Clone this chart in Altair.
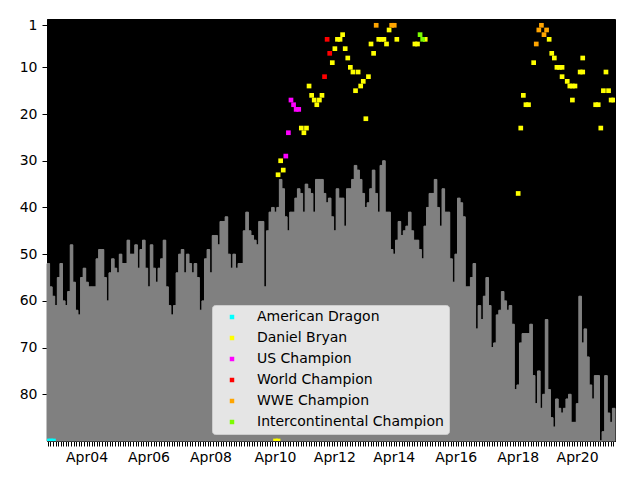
import altair as alt
import pandas as pd

# Rank per month (bar tops), left to right
ranks = [
    52, 57, 59, 61, 55, 52, 60, 61, 58, 48,
    56, 62, 63, 55, 53, 56, 57, 57, 57, 51,
    49, 49, 55, 60, 54, 51, 53, 54, 50, 52,
    52, 47, 50, 50, 48, 53, 49, 47, 53, 57,
    48, 53, 56, 53, 51, 47, 57, 61, 63, 61,
    54, 50, 49, 54, 50, 52, 54, 52, 55, 62,
    60, 51, 49, 54, 46, 46, 48, 43, 43, 42,
    50, 53, 50, 53, 52, 52, 45, 41, 45, 46,
    47, 48, 43, 43, 57, 45, 41, 40, 41, 40,
    34, 36, 42, 45, 41, 41, 38, 36, 37, 41,
    35, 36, 37, 41, 34, 34, 34, 37, 39, 38,
    42, 45, 36, 38, 38, 44, 36, 36, 34, 31,
    32, 34, 37, 40, 39, 36, 32, 37, 41, 31,
    30, 41, 41, 49, 50, 47, 43, 46, 45, 44,
    41, 45, 47, 47, 49, 51, 44, 40, 37, 37,
    34, 40, 44, 36, 41, 41, 51, 56, 50, 38,
    39, 42, 57, 57, 55, 52, 66, 61, 64, 59,
    55, 61, 70, 69, 63, 62, 58, 60, 62, 61,
    65, 79, 78, 69, 67, 67, 67, 65, 76, 82,
    75, 83, 80, 64, 79, 85, 87, 81, 83, 84,
    83, 81, 80, 86, 86, 82, 59, 69, 66, 72,
    78, 81, 76, 76, 90, 88, 76, 84, 86, 83,
]
base_rank = 90

tick_idx = [15, 39, 63, 88, 111, 134, 158, 182, 205]
tick_labels = ["Apr04", "Apr06", "Apr08", "Apr10", "Apr12", "Apr14", "Apr16", "Apr18", "Apr20"]

categories = ["American Dragon", "Daniel Bryan", "US Champion",
              "World Champion", "WWE Champion", "Intercontinental Champion"]
colors = ["#00ffff", "#ffff00", "#ff00ff", "#ff0000", "#ffa500", "#7cfc00"]

american_dragon_idx = [0, 1, 2]
american_dragon_rank = [90, 90, 90]

daniel_bryan_idx = [88, 89, 89, 90, 91, 98, 99, 100, 101, 102, 103, 104, 105, 106,
                    110, 111, 112, 113, 114, 115, 116, 117, 118, 119, 120, 121, 122,
                    123, 124, 125, 126, 128, 129, 130, 131, 132, 135, 142, 143, 146,
                    182, 183, 184, 185, 186, 188, 194, 195, 196, 197, 198, 199, 199,
                    201, 202, 203, 204, 203, 206, 207, 207, 212, 213, 214, 215, 216,
                    217, 218, 219]
daniel_bryan_rank = [90, 90, 33, 30, 32, 23, 24, 23, 14, 16, 17, 18, 17, 16,
                     9, 6, 4, 4, 3, 6, 8, 10, 11, 15, 11, 14, 13,
                     21, 12, 5, 7, 4, 4, 4, 5, 2, 4, 5, 5, 4,
                     37, 23, 16, 18, 18, 9, 4, 7, 8, 10, 10, 10, 12,
                     13, 14, 14, 14, 17, 11, 11, 8, 18, 18, 23, 15, 11,
                     15, 17, 17]

us_champion_idx = [92, 93, 94, 95, 96, 97]
us_champion_rank = [29, 24, 17, 18, 19, 19]

world_champion_idx = [107, 108, 109]
world_champion_rank = [12, 4, 7]

wwe_champion_idx = [127, 133, 134, 189, 190, 191, 192, 193]
wwe_champion_rank = [1, 1, 1, 5, 2, 1, 3, 2]

ic_champion_idx = [144, 145]
ic_champion_rank = [3, 4]

n_bars = len(ranks)
bars = pd.DataFrame({"idx": list(range(n_bars)), "rank": ranks, "base": base_rank})

rows = []
for cat, ix, rk in [
    (categories[0], american_dragon_idx, american_dragon_rank),
    (categories[1], daniel_bryan_idx, daniel_bryan_rank),
    (categories[2], us_champion_idx, us_champion_rank),
    (categories[3], world_champion_idx, world_champion_rank),
    (categories[4], wwe_champion_idx, wwe_champion_rank),
    (categories[5], ic_champion_idx, ic_champion_rank),
]:
    for i, r in zip(ix, rk):
        rows.append({"idx": i, "rank": r, "cat": cat})
points = pd.DataFrame(rows)

label_expr = ""
for i, l in zip(tick_idx, tick_labels):
    label_expr += f"datum.value == {i} ? '{l}' : "
label_expr += "''"

x_scale = alt.Scale(domain=list(range(n_bars)), paddingInner=0, paddingOuter=0)
y_scale = alt.Scale(domain=[-0.35, 90], reverse=True, nice=False, zero=False)

x_enc = alt.X("idx:O", scale=x_scale,
              axis=alt.Axis(title=None, labelExpr=label_expr, labelAngle=0,
                            values=list(range(n_bars)),
                            labelOverlap=False, tickSize=5, tickWidth=1,
                            labelPadding=4))
y_axis = alt.Axis(title=None, values=[1, 10, 20, 30, 40, 50, 60, 70, 80],
                  tickSize=5, labelPadding=5)

bar_layer = alt.Chart(bars).mark_bar(color="#808080", stroke="#808080", strokeWidth=1).encode(
    x=x_enc,
    y=alt.Y("rank:Q", scale=y_scale, axis=y_axis),
    y2="base:Q",
)

# step area on top of the bars to hide anti-aliasing seams between adjacent bars
fill_layer = alt.Chart(bars).mark_area(color="#808080", interpolate="step").encode(
    x=x_enc,
    y=alt.Y("rank:Q", scale=y_scale, axis=y_axis),
    y2="base:Q",
)

point_layer = alt.Chart(points).mark_square(size=22, opacity=1, clip=True).encode(
    x=x_enc,
    y=alt.Y("rank:Q", scale=y_scale, axis=y_axis),
    color=alt.Color("cat:N", scale=alt.Scale(domain=categories, range=colors),
                    legend=alt.Legend(title=None, orient="none", legendX=165, legendY=286,
                                      fillColor="#e5e5e5", strokeColor="#cccccc",
                                      cornerRadius=3, padding=5, symbolType="square",
                                      symbolSize=20, symbolOffset=8, labelOffset=18,
                                      labelFontSize=14, labelFont="DejaVu Sans",
                                      labelColor="black", labelLimit=300, rowPadding=7,
                                      symbolStrokeWidth=0)),
)

chart = alt.layer(bar_layer, fill_layer, point_layer).properties(
    width=568, height=422,
    autosize=alt.AutoSizeParams(type="none"),
    padding={"left": 39, "top": 11, "right": 17, "bottom": 30},
).configure_view(
    fill="black", stroke="black"
).configure_axis(
    labelFont="DejaVu Sans", labelFontSize=14, labelColor="black",
    tickColor="black", domainColor="black", grid=False,
)

chart.save("out.html", embed_options={"renderer": "svg", "actions": False})
